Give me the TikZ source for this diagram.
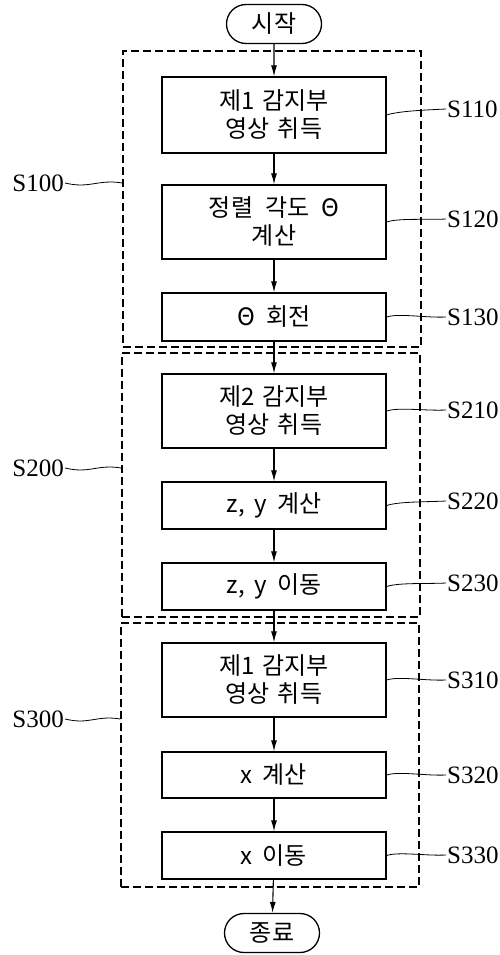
\documentclass[tikz,border=0pt]{standalone}
\usepackage{fontspec}
\setmainfont{Liberation Serif}
\newfontfamily\kr{Noto Sans CJK KR}
\usetikzlibrary{shapes.misc,arrows.meta}
\tikzset{
  stepbox/.style={draw,line width=1.3pt,minimum width=224pt,align=center,inner sep=0pt,
    font=\kr\fontsize{24}{28}\selectfont},
  term/.style={draw,line width=1.3pt,rounded rectangle,minimum width=95pt,minimum height=39pt,inner sep=0pt,
    font=\kr\fontsize{24}{26}\selectfont},
  frame/.style={draw,line width=1.2pt,dash pattern=on 8pt off 4pt,minimum width=298pt,inner sep=0pt},
  flow/.style={line width=1.1pt,-{Latex[length=11pt,width=6pt]}},
  lead/.style={line width=0.8pt},
  lab/.style={font=\fontsize{25}{26}\selectfont,inner sep=1pt}
}
\begin{document}
\begin{tikzpicture}[x=1pt,y=-1pt]
\useasboundingbox (0,0) rectangle (499,955);
% frames
\node[frame,minimum height=296pt] (F1) at (272,199) {};
\node[frame,minimum height=264pt] (F2) at (271,485) {};
\node[frame,minimum height=264pt] (F3) at (270,755) {};
% terminals
\node[term] (start) at (274,24) {시작};
\node[term] (end) at (272,933) {종료};
% steps
\node[stepbox,minimum height=76pt] (S110) at (274,115) {제1\hspace{8pt}감지부\\영상\hspace{8pt}취득};
\node[stepbox,minimum height=74pt] (S120) at (274,222) {정렬\hspace{12pt}각도\hspace{12pt}Θ\\계산};
\node[stepbox,minimum height=48pt] (S130) at (274,317) {Θ\hspace{12pt}회전};
\node[stepbox,minimum height=74pt] (S210) at (274,411) {제2\hspace{8pt}감지부\\영상\hspace{8pt}취득};
\node[stepbox,minimum height=47pt] (S220) at (274,505.5) {z,\hspace{10pt}y\hspace{10pt}계산};
\node[stepbox,minimum height=47pt] (S230) at (274,586.5) {z,\hspace{10pt}y\hspace{10pt}이동};
\node[stepbox,minimum height=74pt] (S310) at (274,680) {제1\hspace{8pt}감지부\\영상\hspace{8pt}취득};
\node[stepbox,minimum height=46pt] (S320) at (274,775) {x\hspace{10pt}계산};
\node[stepbox,minimum height=47pt] (S330) at (274,855.5) {x\hspace{10pt}이동};
% arrows
\draw[flow] (start) -- (S110);
\draw[flow] (S110) -- (S120);
\draw[flow] (S120) -- (S130);
\draw[flow] (S130) -- (S210);
\draw[flow] (S210) -- (S220);
\draw[flow] (S220) -- (S230);
\draw[flow] (S230) -- (S310);
\draw[flow] (S310) -- (S320);
\draw[flow] (S320) -- (S330);
\draw[flow] (S330) -- (end);
% right labels
\node[lab,anchor=west] (L110) at (446,109) {S110};
\node[lab,anchor=west] (L120) at (446,219) {S120};
\node[lab,anchor=west] (L130) at (446,317) {S130};
\node[lab,anchor=west] (L210) at (446,410) {S210};
\node[lab,anchor=west] (L220) at (446,501) {S220};
\node[lab,anchor=west] (L230) at (446,583) {S230};
\node[lab,anchor=west] (L310) at (446,680) {S310};
\node[lab,anchor=west] (L320) at (446,775) {S320};
\node[lab,anchor=west] (L330) at (446,855) {S330};
\foreach \s in {110,120,130,210,220,230,310,320,330}{
  \draw[lead] (S\s.east) .. controls +(12,-4) and +(-20,1) .. (L\s.west);
}
% left labels
\node[lab,anchor=east] (L100) at (65,183) {S100};
\node[lab,anchor=east] (L200) at (65,468) {S200};
\node[lab,anchor=east] (L300) at (65,719) {S300};
\draw[lead] (L100.east) .. controls +(25,6) and +(-25,-4) .. (F1.west |- L100.east);
\draw[lead] (L200.east) .. controls +(25,6) and +(-25,-4) .. (F2.west |- L200.east);
\draw[lead] (L300.east) .. controls +(25,6) and +(-25,-4) .. (F3.west |- L300.east);
\end{tikzpicture}
\end{document}
